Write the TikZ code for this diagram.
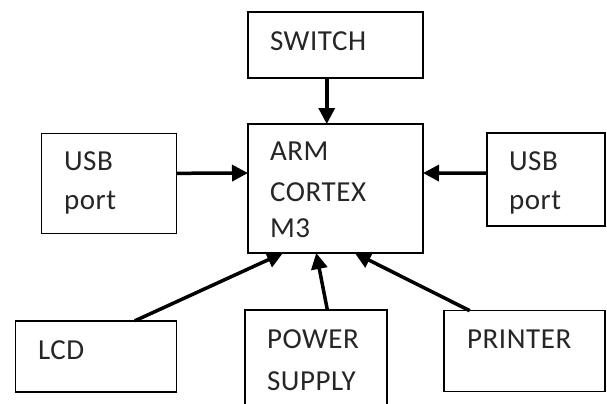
\documentclass[tikz,border=0pt]{standalone}
\usepackage{fontspec}
\setmainfont{Carlito}[LetterSpace=2]
\usetikzlibrary{arrows.meta,calc}
\begin{document}
\begin{tikzpicture}[x=1bp,y=-1bp,
  box/.style={draw=black,line width=1.5bp,inner sep=0pt,outer sep=0pt,rectangle},
  lbl/.style={anchor=base west,inner sep=0pt,outer sep=0pt,text=black!85,font=\fontsize{29bp}{33bp}\selectfont},
  arr/.style={line width=3.5bp,-{Triangle[length=16bp,width=16bp]}}]
\useasboundingbox (0,0) rectangle (607,403);
\clip (0,0) rectangle (607,403);
\fill[white] (0,0) rectangle (607,403);
% boxes
\node[box,minimum width=175bp,minimum height=66bp] (sw) at (335.5,45) {};
\node[box,minimum width=175bp,minimum height=129bp] (arm) at (335.5,188.5) {};
\node[box,minimum width=135bp,minimum height=100bp] (usbl) at (109.2,183.3) {};
\node[box,minimum width=118bp,minimum height=93bp] (usbr) at (545.8,179.7) {};
\node[box,minimum width=161bp,minimum height=71bp] (lcd) at (96.2,356.3) {};
\node[box,minimum width=142bp,minimum height=100bp] (pow) at (316,360) {};
\node[box,minimum width=161bp,minimum height=81bp] (prn) at (524.5,351.2) {};
% labels
\node[lbl] (tsw) at (270,50) {SWITCH};
\node[lbl] (ta1) at (270,160) {ARM};
\node[lbl] (ta2) at (270,201) {CORTEX};
\node[lbl] (ta3) at (270,237) {M3};
\node[lbl] (tl1) at (64,170) {USB};
\node[lbl] (tl2) at (64,209) {port};
\node[lbl] (tr1) at (509,170) {USB};
\node[lbl] (tr2) at (509,209) {port};
\node[lbl] (tlcd) at (38,359) {LCD};
\node[lbl] (tp1) at (267,348) {POWER};
\node[lbl] (tp2) at (267,390) {SUPPLY};
\node[lbl] (tprn) at (467,348) {PRINTER};
% connectors
\draw[arr] ($(sw.south west)!0.45!(sw.south east)$) -- ($(arm.north west)!0.45!(arm.north east)$);
\draw[arr] ($(usbl.north east)!0.4!(usbl.south east)$) -- ($(arm.north west)!0.38!(arm.south west)$);
\draw[arr] ($(usbr.north west)!0.43!(usbr.south west)$) -- ($(arm.north east)!0.38!(arm.south east)$);
\draw[arr] ($(lcd.north west)!0.74!(lcd.north east)$) -- ($(arm.south west)!0.2!(arm.south east)$);
\draw[arr] ($(pow.north west)!0.58!(pow.north east)$) -- ($(arm.south west)!0.39!(arm.south east)$);
\draw[arr] ($(prn.north west)!0.16!(prn.north east)$) -- ($(arm.south west)!0.61!(arm.south east)$);
\end{tikzpicture}
\end{document}
